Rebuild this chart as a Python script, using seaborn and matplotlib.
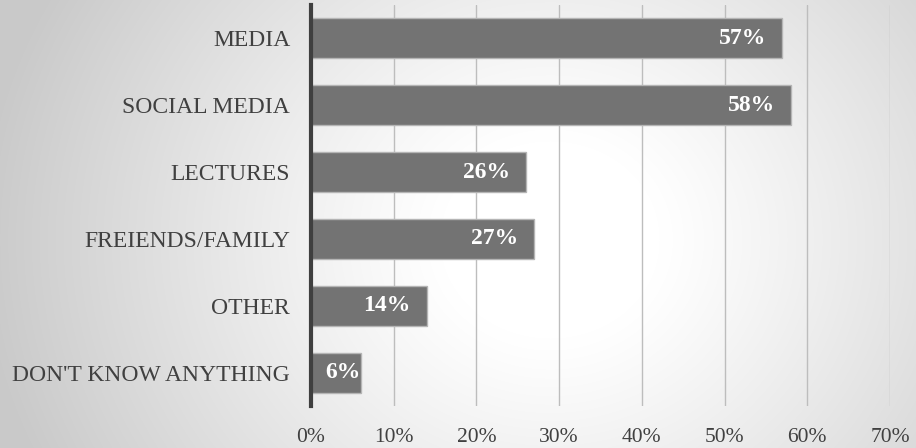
import numpy as np
import pandas as pd
import matplotlib
matplotlib.use("Agg")
import matplotlib.pyplot as plt
import seaborn as sns

categories = ["MEDIA", "SOCIAL MEDIA", "LECTURES", "FREIENDS/FAMILY", "OTHER", "DON'T KNOW ANYTHING"]
values = [57, 58, 26, 27, 14, 6]
xticks = [0, 10, 20, 30, 40, 50, 60, 70]
xtick_labels = ["0%", "10%", "20%", "30%", "40%", "50%", "60%", "70%"]

df = pd.DataFrame({"category": categories, "value": values})

sns.set_theme(style="white")
plt.rcParams["font.family"] = ["Liberation Serif", "DejaVu Serif"]

W, H = 916, 448
fig = plt.figure(figsize=(W / 100, H / 100), dpi=100)

# radial gradient background
bg = fig.add_axes([0, 0, 1, 1], zorder=0)
yy, xx = np.mgrid[0:H, 0:W]
d = np.sqrt(((xx - 550) / 1.0) ** 2 + ((yy - 240) / 0.9) ** 2)
t = np.clip((d - 110) / 460, 0, 1)
g = 1.0 - (1.0 - 0.79) * t ** 1.1
bg.imshow(np.dstack([g, g, g]), extent=[0, 1, 0, 1], aspect="auto", origin="upper")
bg.set_axis_off()

ax = fig.add_axes([311 / W, 42 / H, 579 / W, 401 / H], zorder=1)
ax.patch.set_alpha(0)

sns.barplot(data=df, y="category", x="value", orient="h", ax=ax,
            color="#737373", saturation=1, width=0.6,
            edgecolor="#b5b5b5", linewidth=1.0, zorder=2)

ax.set_xlim(0, 70)
ax.set_xticks(xticks)
ax.set_xticklabels(xtick_labels)
ax.set_xlabel("")
ax.set_ylabel("")
ax.grid(axis="x", color="#bdbdbd", linewidth=1.0, zorder=0)
ax.set_axisbelow(True)
for s in ["top", "right", "bottom"]:
    ax.spines[s].set_visible(False)
ax.spines["left"].set_color("#3f3f3f")
ax.spines["left"].set_linewidth(3.0)
ax.spines["left"].set_zorder(5)
ax.tick_params(axis="y", length=0, pad=15, labelsize=17, labelcolor="#404040")
ax.tick_params(axis="x", length=0, pad=16, labelsize=15.5, labelcolor="#404040")

for i, v in enumerate(values):
    if v < 10:
        ax.annotate(f"{v}%", xy=(0, i), xytext=(10, 0), textcoords="offset points",
                    ha="left", va="center", color="white", fontsize=17,
                    fontweight="bold", zorder=6)
    else:
        ax.annotate(f"{v}%", xy=(v, i), xytext=(-11.5, 0), textcoords="offset points",
                    ha="right", va="center", color="white", fontsize=17,
                    fontweight="bold", zorder=6)

fig.savefig("out.png", dpi=100)
